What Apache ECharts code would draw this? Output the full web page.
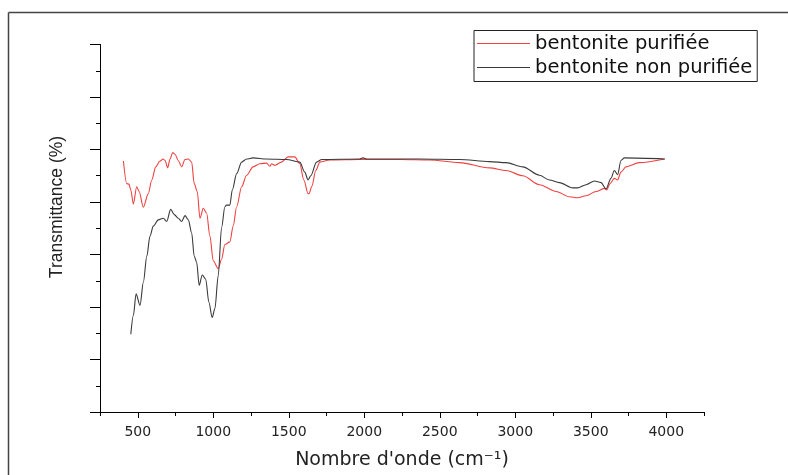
<!DOCTYPE html>
<html>
<head>
<meta charset="utf-8">
<script src="https://cdn.jsdelivr.net/npm/echarts@6/dist/echarts.min.js"></script>
<style>html,body{margin:0;padding:0;background:#fff}#c{width:788px;height:475px}</style>
</head>
<body>
<div id="c"></div>
<script>
// Wavenumbers (cm-1) and transmittance (arbitrary units, axis unlabeled)
const purWn = [405,427,442,454,471,493,509,537,570,593,619,647,669,681,698,714,731,747,768,791,813,835,857,874,894,912,934,956,978,1000,1033,1055,1077,1110,1132,1155,1188,1221,1264,1309,1353,1375,1386,1408,1452,1496,1540,1573,1600,1628,1635,1653,1679,1706,1772,1970,2235,2433,2631,2830,2940,3050,3160,3271,3359,3413,3469,3535,3590,3605,3628,3656,3678,3700,3733,3821,3990];
const purT  = [47.8,43.5,43.4,42.3,39.6,42.9,42.0,39.0,41.6,44.2,46.7,47.8,48.2,47.9,46.5,48.2,49.4,49.1,47.9,46.7,48.1,48.2,47.6,43.5,42.0,36.9,38.8,37.9,33.5,28.8,27.3,29.1,31.9,32.4,35.4,39.1,42.9,45.1,46.7,47.3,47.4,46.8,47.3,47.0,47.6,48.6,48.6,47.3,44.2,41.6,41.6,43.0,46.0,47.6,48.0,48.1,48.1,48.0,47.5,46.5,46.0,45.0,43.3,42.0,41.0,40.8,41.2,42.0,42.6,42.3,43.5,44.5,44.2,45.7,46.7,47.5,48.2];
const rawWn = [454,471,489,515,537,560,581,603,636,669,692,718,742,768,791,813,835,857,874,890,907,927,950,971,993,1011,1033,1055,1077,1088,1110,1126,1155,1188,1221,1264,1353,1485,1573,1606,1628,1646,1684,1719,1970,1990,2023,2367,2631,2830,2940,3050,3160,3226,3293,3380,3413,3469,3524,3568,3601,3634,3656,3678,3700,3723,3990];
const rawT  = [14.8,18.4,22.5,20.3,24.7,29.7,33.5,35.4,36.6,36.9,36.3,38.6,37.6,36.9,36.3,37.4,36.6,34.1,29.7,28.5,24.1,26.1,25.3,20.9,18.0,19.7,26.0,35.1,39.1,39.4,39.4,42.3,45.4,47.6,48.2,48.4,48.2,48.1,47.6,45.7,44.2,45.0,47.6,48.1,48.2,48.4,48.2,48.2,48.1,47.7,47.5,46.7,45.1,44.2,43.7,42.7,42.7,43.3,44.0,43.7,42.5,44.5,46.0,45.2,47.9,48.4,48.2];
const seriesNames = ['bentonite purifiée', 'bentonite non purifiée'];
const xMajorTicks = [500,1000,1500,2000,2500,3000,3500,4000];

const pairs = (a, b) => a.map((v, i) => [v, b[i]]);
const chart = echarts.init(document.getElementById('c'), null, {renderer: 'canvas'});
const FONT = 'DejaVu Sans';
chart.setOption({
  animation: false,
  backgroundColor: '#fff',
  grid: {left: 100, right: 84, top: 44.5, bottom: 59},
  legend: {
    orient: 'vertical', left: 474, top: 30.5,
    padding: [3, 5, 4, 3],
    itemGap: 4, itemWidth: 53, itemHeight: 1.2, icon: 'rect',
    borderColor: '#222', borderWidth: 1,
    textStyle: {fontFamily: FONT, fontSize: 19.5, color: '#111', lineHeight: 20},
    data: seriesNames
  },
  xAxis: [{
    type: 'value', min: 250, max: 4250, interval: 250,
    axisLine: {lineStyle: {color: '#000', width: 1}},
    axisTick: {show: true, length: 4, lineStyle: {color: '#000'}},
    axisLabel: {customValues: xMajorTicks, formatter: v => String(v), fontFamily: FONT, fontSize: 14, color: '#222', margin: 13},
    splitLine: {show: false},
    name: "Nombre d'onde (cm\u207B\u00B9)",
    nameLocation: 'middle', nameGap: 38,
    nameTextStyle: {fontFamily: FONT, fontSize: 19, color: '#222', lineHeight: 20}
  }, {
    type: 'value', min: 250, max: 4250, position: 'bottom', gridIndex: 0,
    axisLine: {show: false},
    axisTick: {show: true, customValues: xMajorTicks, length: 6, lineStyle: {color: '#000'}},
    axisLabel: {show: false},
    splitLine: {show: false}
  }],
  yAxis: {
    type: 'value', min: 0, max: 70, interval: 10,
    axisLine: {show: true, lineStyle: {color: '#000', width: 1}},
    axisTick: {show: true, length: 10, lineStyle: {color: '#000'}},
    minorTick: {show: true, splitNumber: 2, length: 4, lineStyle: {color: '#000'}},
    axisLabel: {show: false},
    splitLine: {show: false}
  },
  graphic: [
    {type: 'line', shape: {x1: 8.5, y1: 12.5, x2: 788, y2: 12.5}, style: {stroke: '#444', lineWidth: 1.5}, silent: true},
    {type: 'line', shape: {x1: 8.5, y1: 12.5, x2: 8.5, y2: 475}, style: {stroke: '#444', lineWidth: 1.5}, silent: true},
    {type: 'text', x: 57, y: 207, rotation: Math.PI / 2,
     style: {text: 'Transmittance (%)', fontFamily: 'Liberation Sans', fontSize: 17.5, fill: '#222', textAlign: 'center', textVerticalAlign: 'middle'}}
  ],
  series: [{
    name: seriesNames[0], type: 'line', xAxisIndex: 0, symbol: 'none',
    smooth: 0.3, smoothMonotone: 'x',
    lineStyle: {color: '#f04040', width: 1.1}, itemStyle: {color: '#f04040'},
    data: pairs(purWn, purT)
  }, {
    name: seriesNames[1], type: 'line', xAxisIndex: 0, symbol: 'none',
    smooth: 0.3, smoothMonotone: 'x',
    lineStyle: {color: '#3a3a3a', width: 1.1}, itemStyle: {color: '#3a3a3a'},
    data: pairs(rawWn, rawT)
  }]
});
</script>
</body>
</html>
